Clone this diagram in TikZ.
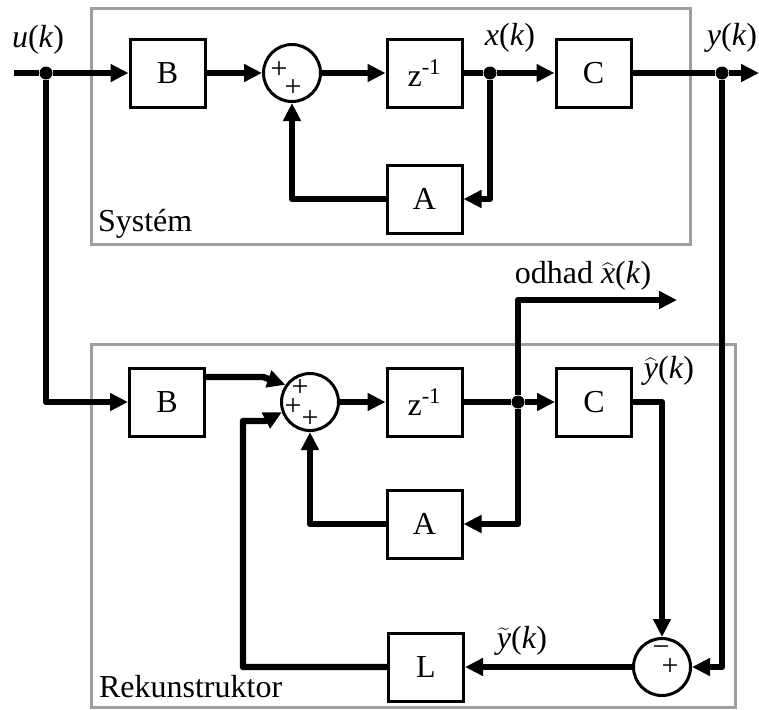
\documentclass[tikz,border=0pt]{standalone}
\usepackage{fontspec}
\setmainfont{Liberation Serif}
\usetikzlibrary{arrows.meta}

\tikzset{
  blok/.style={draw, line width=1.5pt, fill=white, minimum width=37.5pt, minimum height=34pt, inner sep=0pt},
  suma/.style={draw, circle, line width=1.5pt, fill=white, minimum size=28.5pt, inner sep=0pt},
  sig/.style={line width=3.2pt, line join=round, -{Triangle[length=9pt,width=8.5pt]}},
  vod/.style={line width=3.2pt, line join=round},
  uzel/.style={circle, fill, inner sep=0pt, minimum size=6.5pt},
  ramec/.style={draw=black!38, line width=1.5pt},
  znam/.style={font=\fontsize{15}{15}\selectfont, inner sep=0pt}
}

\begin{document}
\begin{tikzpicture}[x=0.5pt, y=-0.5pt, font=\fontsize{16}{18}\selectfont]
        \useasboundingbox (0,0) rectangle (759,709);

        % Rámce
        \draw[ramec] (91,8) rectangle (690,244);
        \draw[ramec] (91,344) rectangle (735,707);
        \node[anchor=base west] (sys) at (91,231) {Systém};
        \node[anchor=base west] (rek) at (92,697) {Rekunstruktor};

        % Systém
        \coordinate (uin) at (14,73);
        \node[uzel] (uj) at (46,73) {};
        \node[blok] (B1) at (167.5,73) {B};
        \node[suma] (S1) at (292,73) {};
        \node[znam] (p11) at (279,70) {+};
        \node[znam] (p12) at (293,88) {+};
        \node[blok] (Z1) at (424.5,73) {z\textsuperscript{-1}};
        \node[uzel] (xj) at (490,73) {};
        \node[blok] (C1) at (593.5,73) {C};
        \node[uzel] (yj) at (722,73) {};
        \coordinate (yout) at (759,73);
        \node[blok] (A1) at (424.5,199) {A};

        \draw[vod] (uin) -- (uj);
        \draw[sig] (uj) -- (B1);
        \draw[sig] (B1) -- (S1);
        \draw[sig] (S1) -- (Z1);
        \draw[vod] (Z1) -- (xj);
        \draw[sig] (xj) -- (C1);
        \draw[vod] (C1) -- (yj);
        \draw[sig] (yj) -- (yout);
        \draw[sig] (xj) |- (A1);
        \draw[sig] (A1) -| (S1);

        \node (ul) at (38,40) {\textit{u}(\textit{k})};
        \node (xl) at (510,38) {\textit{x}(\textit{k})};
        \node (yl) at (732,38) {\textit{y}(\textit{k})};

        % Rekonstruktor
        \node[blok] (B2) at (167,402) {B};
        \node[suma] (S2) at (310,402) {};
        \node[znam] (p21) at (300,388) {+};
        \node[znam] (p22) at (293,407) {+};
        \node[znam] (p23) at (310,419) {+};
        \node[blok] (Z2) at (424.5,402) {z\textsuperscript{-1}};
        \node[uzel] (xj2) at (518,402) {};
        \node[blok] (C2) at (594,402) {C};
        \node[blok] (A2) at (424.5,524) {A};
        \node[suma] (S3) at (662,667) {};
        \node[znam] (m31) at (661,651) {\textminus};
        \node[znam] (p32) at (670,667) {+};
        \node[blok] (L) at (426,667) {L};
        \coordinate (odhad) at (677,300);

        \draw[sig] (uj) |- (B2);
        \draw[sig] ([yshift=12.5pt]B2.east) -- ++(57,0) -- (S2.145);
        \draw[sig] (S2) -- (Z2);
        \draw[vod] (Z2) -- (xj2);
        \draw[sig] (xj2) -- (C2);
        \draw[sig] (xj2) |- (A2);
        \draw[sig] (A2) -| (S2);
        \draw[sig] (xj2) |- (odhad);
        \draw[sig] (C2.east) -| (S3);
        \draw[sig] (yj) |- (S3);
        \draw[sig] (S3) -- (L);
        \draw[sig] (L.west) -| (243,421) -- ++(22,0) -- (S2.200);

        \node (odl) at (583,276) {odhad $\widehat{\textit{x}}$(\textit{k})};
        \node (yhl) at (669,371) {$\widehat{\textit{y}}$(\textit{k})};
        \node (ytl) at (522,641) {$\widetilde{\textit{y}}$(\textit{k})};

    \end{tikzpicture}
\end{document}
